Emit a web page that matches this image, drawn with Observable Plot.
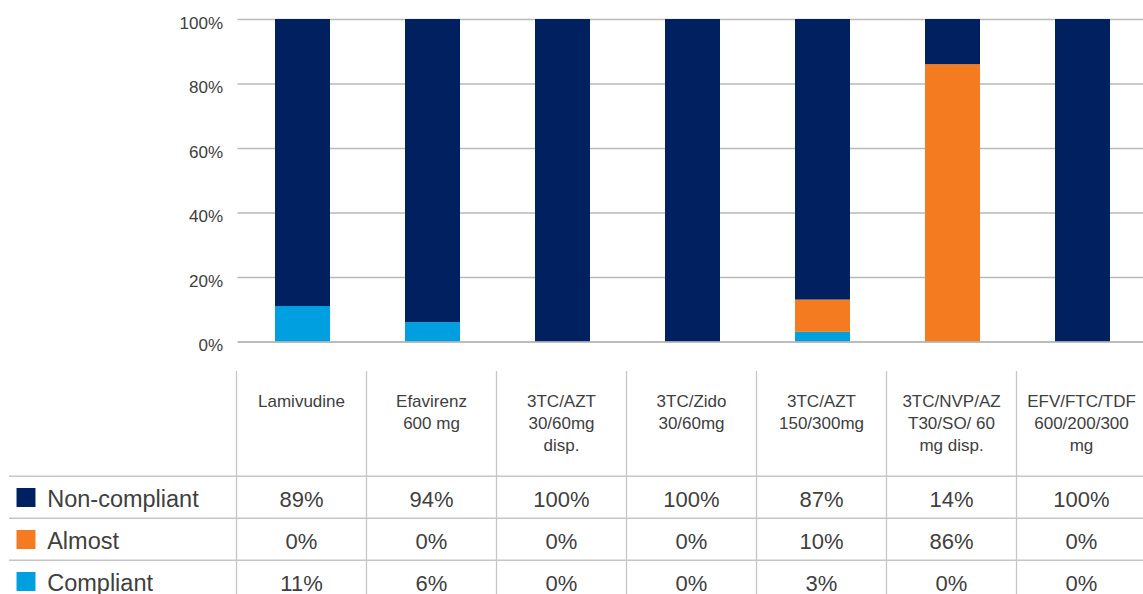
<!DOCTYPE html>
<html>
<head>
<meta charset="utf-8">
<script src="https://cdn.jsdelivr.net/npm/d3@7"></script>
<script src="https://cdn.jsdelivr.net/npm/@observablehq/plot@0.6"></script>
<style>
  html, body { margin: 0; padding: 0; background: #ffffff; }
  #chart svg { display: block; }
</style>
</head>
<body>
<div id="chart"></div>
<script>
// ---- data ----
const categories = [
  "Lamivudine",
  "Efavirenz\n600 mg",
  "3TC/AZT\n30/60mg\ndisp.",
  "3TC/Zido\n30/60mg",
  "3TC/AZT\n150/300mg",
  "3TC/NVP/AZ\nT30/SO/ 60\nmg disp.",
  "EFV/FTC/TDF\n600/200/300\nmg"
];
const series = ["Non-compliant", "Almost", "Compliant"];
const nonCompliant = [89, 94, 100, 100, 87, 14, 100];
const almost = [0, 0, 0, 0, 10, 86, 0];
const compliant = [11, 6, 0, 0, 3, 0, 0];
const yTicks = [0, 20, 40, 60, 80, 100];
const colors = ["#002060", "#F47B20", "#009FDF"];

// tidy table built from the arrays
const valuesBySeries = {"Non-compliant": nonCompliant, "Almost": almost, "Compliant": compliant};
const stackOrder = ["Compliant", "Almost", "Non-compliant"];
const bars = [];
categories.forEach((c, i) => {
  stackOrder.forEach(s => bars.push({category: c, series: s, value: valuesBySeries[s][i]}));
});
const cells = [];
series.forEach(s => categories.forEach((c, i) => cells.push({category: c, series: s, value: valuesBySeries[s][i]})));

const font = "'Liberation Sans', Arial, Helvetica, sans-serif";
const textColor = "#404040";
const gridColor = "#b9b9b9";
const tableLine = "#c6c6c6";

const chart = Plot.plot({
  width: 1143,
  height: 360,
  marginTop: 19,
  marginBottom: 18.5,
  marginLeft: 237.5,
  marginRight: 0,
  style: {fontFamily: font, fontSize: "17px", color: textColor, background: "white"},
  x: {type: "band", domain: categories, range: [237.5, 1147.5], paddingInner: 0.577, paddingOuter: 0.2885, axis: null},
  y: {domain: [0, 100], axis: null},
  color: {domain: series, range: colors},
  marks: [
    Plot.ruleY(yTicks.filter(t => t > 0), {stroke: gridColor, strokeWidth: 1.3}),
    Plot.barY(bars, {x: "category", y: "value", fill: "series"}),
    Plot.ruleY([0], {stroke: "#a6a6a6", strokeWidth: 1.5}),
    Plot.axisY({ticks: yTicks, tickFormat: d => d + "%", tickSize: 0, tickPadding: 15, dy: 4, fontSize: 17, fill: textColor, label: null})
  ]
});

const table = Plot.plot({
  width: 1143,
  height: 234,
  marginTop: 11,
  marginBottom: 0,
  marginLeft: 9,
  marginRight: 0,
  style: {fontFamily: font, fontSize: "17px", color: textColor, background: "white"},
  x: {type: "band", domain: categories, range: [235.7, 1145.7], padding: 0, axis: null},
  y: {type: "band", domain: series, range: [115, 242.5], padding: 0, axis: null},
  color: {domain: series, range: colors},
  marks: [
    Plot.ruleY(series, {y: d => d, dy: -21.25, stroke: tableLine, strokeWidth: 1.3}),
    Plot.ruleX(categories, {x: d => d, dx: -65, stroke: tableLine, strokeWidth: 1.3}),
    Plot.text(categories, {x: d => d, text: d => d, frameAnchor: "top", lineAnchor: "top", dy: 19.6, fontSize: 17, lineHeight: 1.3, fill: textColor}),
    Plot.text(cells, {x: "category", y: "series", text: d => d.value + "%", fontSize: 22, dy: 2, fill: textColor}),
    Plot.dot(series, {y: d => d, frameAnchor: "left", dx: 16.5, symbol: "square", r: 10.7, fill: d => d, stroke: null}),
    Plot.text(series, {y: d => d, text: d => d, frameAnchor: "left", dx: 37.7, textAnchor: "start", fontSize: 23.5, dy: 2, fill: textColor})
  ]
});

const root = document.getElementById("chart");
root.appendChild(chart);
root.appendChild(table);
</script>
</body>
</html>
